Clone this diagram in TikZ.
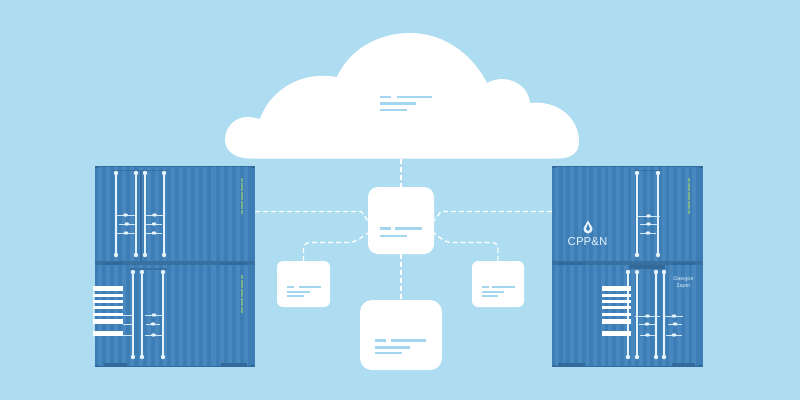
\documentclass[tikz,border=0pt]{standalone}
\usepackage{fontspec}
\setmainfont{Liberation Sans}
\definecolor{sky}{HTML}{AEDDF1}
\definecolor{crate}{HTML}{3D7DB5}
\definecolor{crateDark}{HTML}{38719F}
\definecolor{crateEdge}{HTML}{336A9C}
\definecolor{ribbon}{HTML}{4888BF}
\definecolor{mark}{HTML}{A3D6EE}
\definecolor{lime}{HTML}{7BB08C}
\definecolor{rail}{HTML}{E4F2FA}
\definecolor{rungtone}{HTML}{CFE6F3}
\tikzset{
  x=1pt,y=-1pt,
  card/.style={fill=white,rounded corners=#1,inner sep=0pt,draw=none},
  card/.default=9pt,
  linkline/.style={draw=white,line width=1.3pt,dash pattern=on 5pt off 3pt},
  textbar/.style={draw=none,fill=mark},
  railline/.style={draw=rail,line width=1.4pt},
  rungline/.style={draw=rungtone,line width=1pt},
  plate/.style={draw=none,fill=white},
  limeline/.style={draw=lime,line width=1.3pt,dash pattern=on 4pt off 0.5pt},
}
% one ribbed container wall: x0,y0,x1,y1
\newcommand{\wall}[4]{%
  \fill[crate] (#1,#2) rectangle (#3,#4);
  \foreach \r in {0,...,18}{
    \fill[ribbon] ({#1+3+\r*(#3-#1-6)/19},#2) rectangle ({#1+3+(\r+0.5)*(#3-#1-6)/19},#4);
  }
}
% four corner castings of a wall
\newcommand{\castings}[4]{%
  \fill[crateEdge] (#1,#2) rectangle ++(4,2.5);
  \fill[crateEdge] (#3-4,#2) rectangle ++(4,2.5);
  \fill[crateEdge] (#1,#4-2.5) rectangle ++(4,2.5);
  \fill[crateEdge] (#3-4,#4-2.5) rectangle ++(4,2.5);
}
% vertical rod with round ends
\newcommand{\rod}[3]{%
  \draw[railline] (#1,#2) -- (#1,#3);
  \fill[rail] (#1,#2) circle (2.2pt) (#1,#3) circle (2.2pt);
}
% door handle rung with a small knob
\newcommand{\rung}[3]{%
  \draw[rungline] (#1,#3) -- (#2,#3);
  \fill[rail] ({(#1+#2)/2},#3) ellipse (2.4pt and 1.7pt);
}
\begin{document}
\begin{tikzpicture}
\useasboundingbox (0,0) rectangle (800,400);
\fill[sky] (0,0) rectangle (800,400);

% left stack
\wall{95}{165.5}{255}{262}
\wall{95}{262}{255}{367}
\fill[crateEdge] (95,165.5) rectangle (255,166.8);
\fill[crateDark] (95,261) rectangle (255,265);
\fill[crateEdge] (95,365.8) rectangle (255,367);
\castings{95}{165.5}{255}{367}
\fill[crateEdge] (103,261.5) rectangle (123,264.5);
\fill[crateEdge] (220,261.5) rectangle (247,264.5);
\fill[crateEdge] (104,363) rectangle (127,366);
\fill[crateEdge] (221,363) rectangle (247,366);
\fill[crateEdge] (139.5,170) rectangle (142,261);
\fill[crateDark] (113,169.5) rectangle (167,171);
\fill[crateDark] (130,268) rectangle (167,269.5);
\rod{116}{173}{255}
\rod{136}{173}{255}
\rod{145}{173}{255}
\rod{164}{173}{255}
\rung{116}{135}{215}
\rung{119}{135}{224}
\rung{117}{135}{233}
\rung{145}{164}{215}
\rung{146}{162}{224}
\rung{146}{162}{233}
\rod{133}{272}{357}
\rod{142}{272}{357}
\rod{163}{272}{357}
\rung{145}{163}{315}
\rung{146}{160}{324}
\rung{145}{162}{335}
\draw[limeline] (242,178) -- (242,214);
\draw[limeline] (242,275) -- (242,313);
% vent plate, left
\fill[rungtone] (93,286) rectangle (93.8,337);
\foreach \y/\h in {286/5,294/3,300/3,306/3,313/3,319/5,331/5}{
  \fill[plate] (93,\y) rectangle (123,\y+\h);
}
\draw[rungline] (123,315) -- (133,315);
\draw[rungline] (123,324) -- (132,324);
\draw[rungline] (123,335) -- (133,335);

% right stack
\wall{552}{165.5}{703}{262}
\wall{552}{262}{703}{367}
\fill[crateEdge] (552,165.5) rectangle (703,166.8);
\fill[crateDark] (552,261) rectangle (703,265);
\fill[crateEdge] (552,365.8) rectangle (703,367);
\castings{552}{165.5}{703}{367}
\fill[crateEdge] (558,261.5) rectangle (585,264.5);
\fill[crateEdge] (672,261.5) rectangle (695,264.5);
\fill[crateEdge] (558,363) rectangle (585,366);
\fill[crateEdge] (672,363) rectangle (695,366);
\fill[crateDark] (634,169.5) rectangle (662,171);
\fill[crateEdge] (629,265) rectangle (665,269);
\rod{637}{173}{255}
\rod{658}{173}{255}
\rung{637}{660}{216}
\rung{640}{657}{224}
\rung{640}{656}{233}
\rod{628}{272}{357}
\rod{637}{272}{357}
\rod{656}{272}{357}
\rod{664}{272}{357}
\rung{635}{660}{316}
\rung{639}{655}{324}
\rung{640}{655}{335}
\rung{665}{683}{316}
\rung{668}{682}{324}
\rung{666}{682}{335}
\draw[limeline] (689,178) -- (689,214);
% vent plate, right
\foreach \y/\h in {286/5,294/3,300/3,306/3,313/3,319/5,331/5}{
  \fill[plate] (602,\y) rectangle (631,\y+\h);
}
% logo and painted lettering
\path[fill=rail] (588,220.5) -- (592.5,228) .. controls (592.5,232) and (590,233.5) .. (588,233.5)
  .. controls (586,233.5) and (583.5,232) .. (583.5,228) -- cycle;
\path[fill=crate] (588,224) -- (590,229) -- (588,231) -- (586,229) -- cycle;
\node[text=rail,font=\fontsize{11.5}{12}\selectfont,inner sep=0pt] (brand) at (587.5,242) {CPP\&N};
\node[text=rungtone,font=\fontsize{5.5}{6.6}\selectfont,inner sep=0pt,align=center] (tag) at (683.5,282.5) {Dawgoe\\3aper};

% cloud
\path[fill=white]
  (250,158.5) .. controls (234,158.5) and (225,150) .. (225,140)
  .. controls (225,126) and (236,117) .. (247,117)
  .. controls (252,117) and (256,118) .. (260,119)
  .. controls (268,95) and (296,70) .. (337,77)
  .. controls (350,48) and (380,33) .. (410,33)
  .. controls (444,33) and (472,54) .. (487,83)
  .. controls (505,73) and (528,83) .. (530,103)
  .. controls (558,100) and (579,118) .. (579,142)
  .. controls (579,152) and (572,158.5) .. (558,158.5) -- cycle;
\coordinate (cloudfoot) at (401,158.5);
\fill[textbar] (380,95.5) rectangle (391,98);
\fill[textbar] (397,95.5) rectangle (432,98);
\fill[textbar] (380,102) rectangle (416,104.5);
\fill[textbar] (380,108.5) rectangle (407,111);

% service cards
\node[card=10pt,minimum width=66pt,minimum height=67pt] (hub) at (401,220.5) {};
\node[card=6pt,minimum width=53pt,minimum height=46pt] (west) at (303.5,284) {};
\node[card=6pt,minimum width=52pt,minimum height=46pt] (east) at (498,284) {};
\node[card=12pt,minimum width=82pt,minimum height=70pt] (south) at (401,335) {};

\coordinate (lefthook) at (255,211.5);
\coordinate (righthook) at (552,211.5);

% dashed links
\draw[linkline] (cloudfoot) -- (hub.north);
\draw[linkline] (hub.south) -- (south.north);
\draw[linkline] (lefthook) -- ++(106,0) -- (hub.west);
\draw[linkline] (righthook) -- ++(-111,0) -- (hub.east);
\draw[linkline,rounded corners=6pt] (west.north) |- (354,242.5) -- ([yshift=-12.5pt]hub.west);
\draw[linkline,rounded corners=6pt] (east.north) |- (446,242.5) -- ([yshift=-12.5pt]hub.east);

% text placeholders on the cards
\fill[textbar] (380,227) rectangle (391,230);
\fill[textbar] (395,227) rectangle (422,230);
\fill[textbar] (380,234.5) rectangle (407,237);
\fill[textbar] (287,286) rectangle (294,288);
\fill[textbar] (299,286) rectangle (321,288);
\fill[textbar] (287,291) rectangle (310,293);
\fill[textbar] (287,294.5) rectangle (304,296.5);
\fill[textbar] (482,286) rectangle (489,288);
\fill[textbar] (492,286) rectangle (515,288);
\fill[textbar] (482,291) rectangle (504,293);
\fill[textbar] (482,294.5) rectangle (498,296.5);
\fill[textbar] (375,339) rectangle (386,341.5);
\fill[textbar] (391,339) rectangle (426,341.5);
\fill[textbar] (375,346) rectangle (410,348.5);
\fill[textbar] (375,352) rectangle (402,354);
\end{tikzpicture}
\end{document}
